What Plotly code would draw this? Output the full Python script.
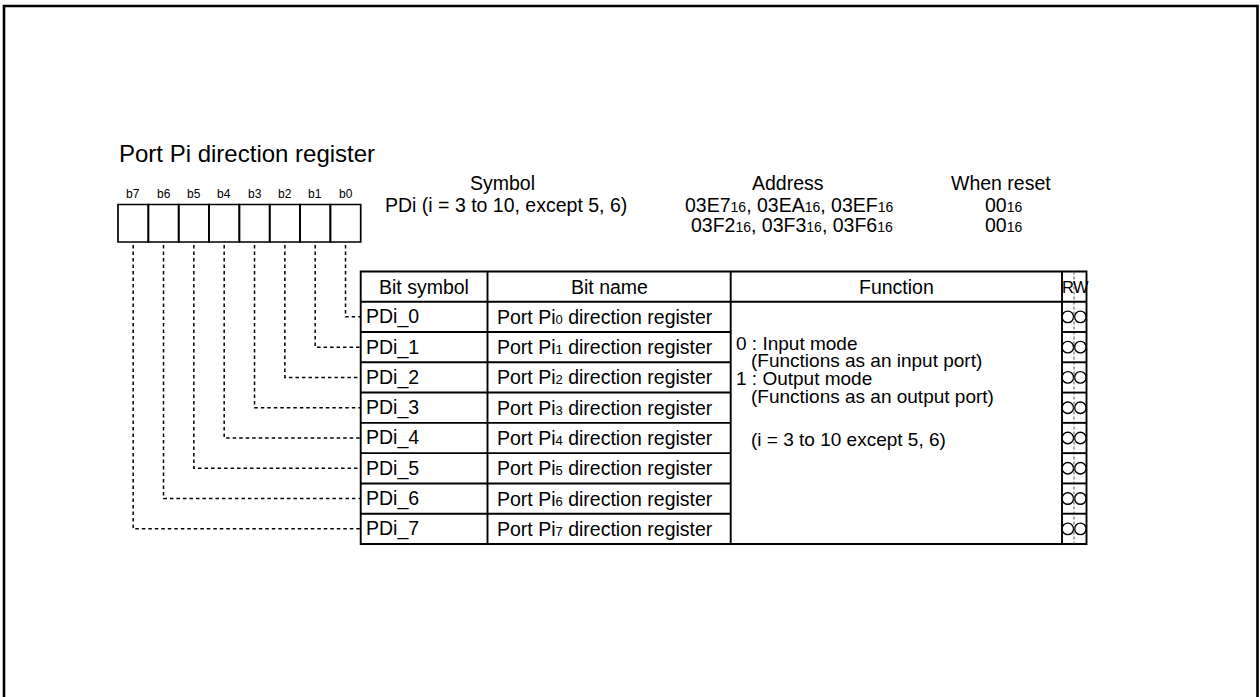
import plotly.graph_objects as go

# ---------------- data ----------------
title = "Port Pi direction register"
bit_labels = ["b7", "b6", "b5", "b4", "b3", "b2", "b1", "b0"]
bit_numbers = [0, 1, 2, 3, 4, 5, 6, 7]
bit_symbols = ["PDi_0", "PDi_1", "PDi_2", "PDi_3", "PDi_4", "PDi_5", "PDi_6", "PDi_7"]
bit_name_prefix = "Port Pi"
bit_name_suffix = " direction register"
read_flags = [1, 1, 1, 1, 1, 1, 1, 1]
write_flags = [1, 1, 1, 1, 1, 1, 1, 1]
header_cols = ["Bit symbol", "Bit name", "Function", "R", "W"]
symbol_head = "Symbol"
symbol_text = "PDi (i = 3 to 10, except 5, 6)"
address_head = "Address"
address_lines = [["03E7", "03EA", "03EF"], ["03F2", "03F3", "03F6"]]
reset_head = "When reset"
reset_values = ["00", "00"]
function_lines = [
    ("0 : Input mode", 0),
    ("(Functions as an input port)", 1),
    ("1 : Output mode", 0),
    ("(Functions as an output port)", 1),
]
function_note = "(i = 3 to 10 except 5, 6)"

# ---------------- layout constants (pixels) ----------------
W, H = 1260, 697
FONT = "Arial, 'Liberation Sans', sans-serif"
FS = 19.5      # body text
FH = 19.5      # header text
FF = 19        # function text
reg_x0, reg_x1 = 118, 360.7
reg_y0, reg_y1 = 204.5, 242
cell_w = (reg_x1 - reg_x0) / 8
tab_x = [360.7, 487.5, 730.7, 1062, 1074, 1086.5]
tab_top, head_bot = 271.5, 301.7
tab_bot = 544
row_h = (tab_bot - head_bot) / 8


def sub(s, size=13):
    return f'<span style="font-size:{size}px">{s}</span>'


fig = go.Figure()
shapes = []
ann = []

# outer frame
shapes.append(dict(type="rect", x0=4, y0=6, x1=1257.5, y1=705,
                   line=dict(color="black", width=2.6)))

# title
ann.append(dict(x=117, y=153, text=title, xanchor="left", font=dict(size=24)))

# register cells + labels
for k, lab in enumerate(bit_labels):
    x0 = reg_x0 + k * cell_w
    shapes.append(dict(type="rect", x0=x0, x1=x0 + cell_w, y0=reg_y0, y1=reg_y1,
                       line=dict(color="black", width=1.7)))
    ann.append(dict(x=x0 + cell_w / 2, y=194, text=lab, font=dict(size=12)))

# header block
ann.append(dict(x=502, y=183, text=symbol_head, font=dict(size=FH)))
ann.append(dict(x=506, y=204.5, text=symbol_text, font=dict(size=FH)))
ann.append(dict(x=788, y=183, text=address_head, font=dict(size=FH)))
for j, (line, xc) in enumerate(zip(address_lines, [789, 792])):
    t = ", ".join(a + sub("16", 14) for a in line)
    ann.append(dict(x=xc, y=204.5 + j * 20.5, text=t, font=dict(size=FH)))
ann.append(dict(x=1001, y=183, text=reset_head, font=dict(size=FH)))
for j, v in enumerate(reset_values):
    ann.append(dict(x=1003, y=204.5 + j * 20.5, text=v + sub("16", 14), font=dict(size=FH)))

# table frame
lw = 1.9
shapes.append(dict(type="rect", x0=tab_x[0], x1=tab_x[-1], y0=tab_top, y1=tab_bot,
                   line=dict(color="black", width=lw)))
for xv in [tab_x[1], tab_x[2], tab_x[3]]:
    shapes.append(dict(type="line", x0=xv, x1=xv, y0=tab_top, y1=tab_bot,
                       line=dict(color="black", width=lw)))
shapes.append(dict(type="line", x0=tab_x[4], x1=tab_x[4], y0=tab_top, y1=tab_bot,
                   line=dict(color="#555555", width=1, dash="3px,2px")))
shapes.append(dict(type="line", x0=tab_x[0], x1=tab_x[-1], y0=head_bot, y1=head_bot,
                   line=dict(color="black", width=lw)))
for i in range(1, 8):
    yv = head_bot + i * row_h
    shapes.append(dict(type="line", x0=tab_x[0], x1=tab_x[2], y0=yv, y1=yv,
                       line=dict(color="black", width=lw)))
    shapes.append(dict(type="line", x0=tab_x[3], x1=tab_x[5], y0=yv, y1=yv,
                       line=dict(color="black", width=lw)))

# header texts
hy = (tab_top + head_bot) / 2
rx, wx = 1067.8, 1080.4
hx = [(tab_x[0] + tab_x[1]) / 2, (tab_x[1] + tab_x[2]) / 2,
      (tab_x[2] + tab_x[3]) / 2, rx - 0.3, wx + 0.2]
hs = [FH, FH, FH, 16.5, 16.5]
for name, xc, s in zip(header_cols, hx, hs):
    ann.append(dict(x=xc, y=hy, text=name, font=dict(size=s)))

# rows
rows_y = [head_bot + (i + 0.5) * row_h for i in range(8)]
for i, (sym, n) in enumerate(zip(bit_symbols, bit_numbers)):
    ann.append(dict(x=364, y=rows_y[i], text=sym, xanchor="left", font=dict(size=FS)))
    ann.append(dict(x=495, y=rows_y[i], xanchor="left", font=dict(size=FS),
                    text=bit_name_prefix + sub(str(n)) + bit_name_suffix))

# function text
for j, (txt, ind) in enumerate(function_lines):
    ann.append(dict(x=734 + ind * 15, y=343 + j * 17.8, text=txt, xanchor="left",
                    font=dict(size=FF)))
ann.append(dict(x=749, y=439, text=function_note, xanchor="left", font=dict(size=FF)))

# R / W circles
fig.add_trace(go.Scatter(
    x=[rx for f in read_flags if f] + [wx for f in write_flags if f],
    y=[y for y, f in zip(rows_y, read_flags) if f] + [y for y, f in zip(rows_y, write_flags) if f],
    mode="markers", hoverinfo="skip",
    marker=dict(symbol="circle-open", size=11.5, color="black", line=dict(width=1.4))))

# dashed connectors from each bit cell to its row
for i, n in enumerate(bit_numbers):
    k = 7 - n
    xc = reg_x0 + (k + 0.5) * cell_w
    yr = rows_y[i]
    fig.add_trace(go.Scatter(x=[xc, xc, tab_x[0]], y=[reg_y1 + 3, yr, yr],
                             mode="lines", hoverinfo="skip",
                             line=dict(color="black", width=1.5, dash="3.5px,3px")))

for a in ann:
    a.setdefault("showarrow", False)
    a.setdefault("xanchor", "center")
    a.setdefault("yanchor", "middle")
    a["xref"] = "x"
    a["yref"] = "y"

fig.update_layout(
    width=W, height=H, margin=dict(l=0, r=0, t=0, b=0),
    paper_bgcolor="white", plot_bgcolor="white", showlegend=False,
    font=dict(family=FONT, color="black"),
    xaxis=dict(range=[0, W], visible=False, fixedrange=True),
    yaxis=dict(range=[H, 0], visible=False, fixedrange=True),
    shapes=shapes, annotations=ann,
)
fig.write_html("out.html", config={"displayModeBar": False},
               post_script="document.body.style.margin='0';document.body.style.overflow='hidden';")
